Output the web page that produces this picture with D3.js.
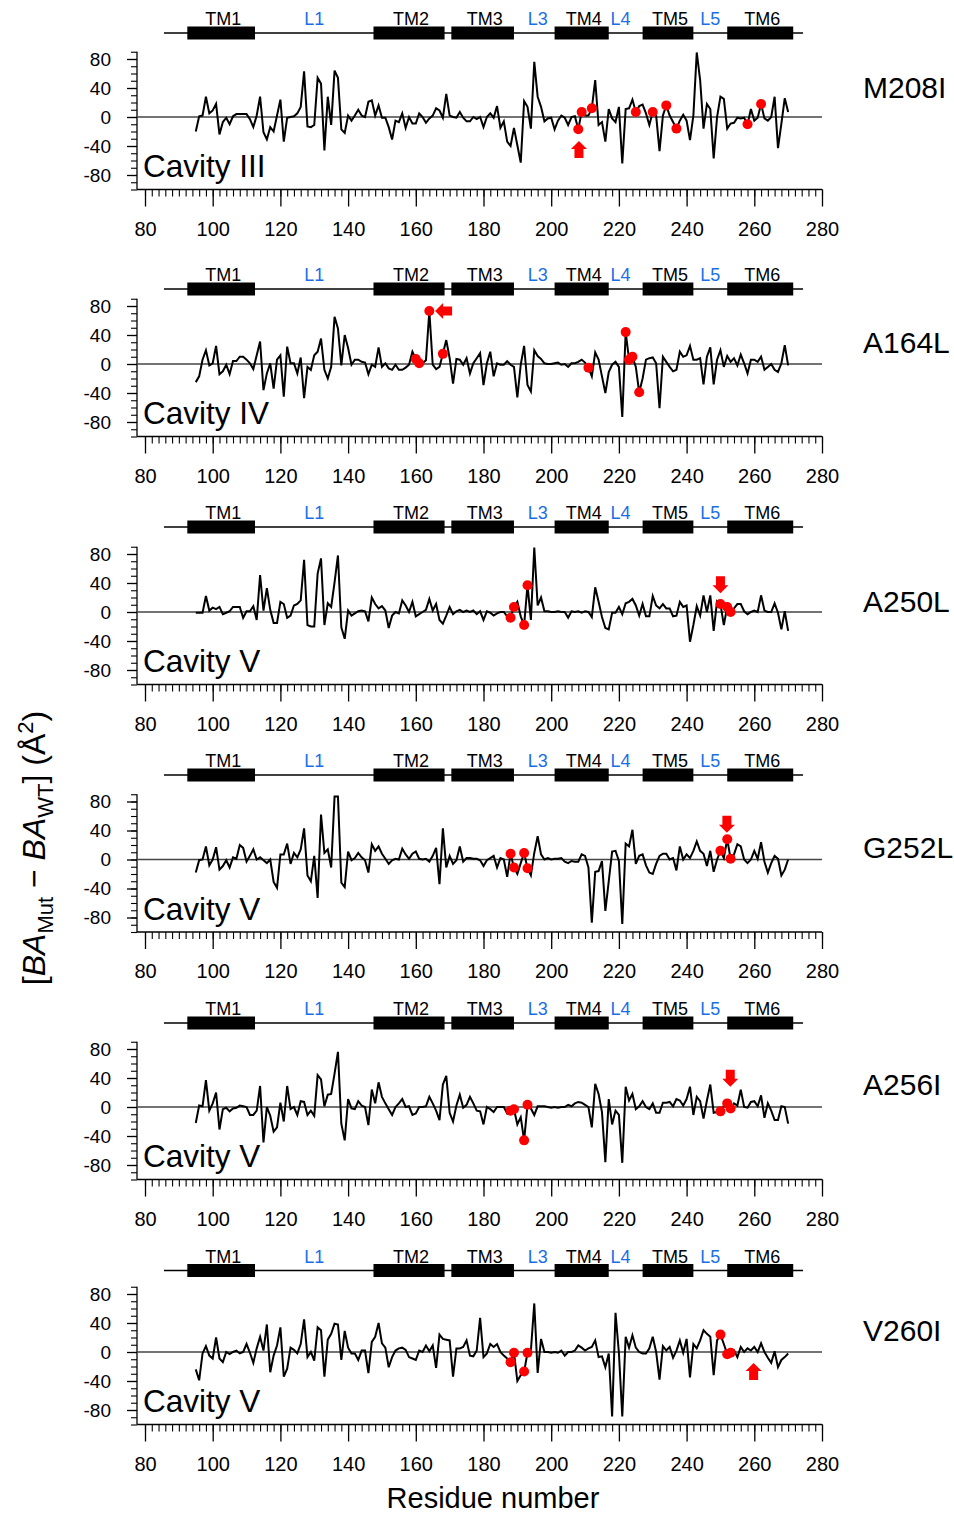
<!DOCTYPE html>
<html>
<head>
<meta charset="utf-8">
<script src="https://cdn.jsdelivr.net/npm/d3@7"></script>
<style>
  body { margin: 0; background: #fff; }
  svg { display: block; }
  text { font-family: "Liberation Sans", Arial, Helvetica, sans-serif; }
</style>
</head>
<body>
<svg id="chart" width="954" height="1515"></svg>
<script>
// ---- data: buried-area difference (mutant - wild type), residues 95..270 ----
const firstResidue = 95;

const mutants  = ["M208I", "A164L", "A250L", "G252L", "A256I", "V260I"];
const cavities = ["Cavity III", "Cavity IV", "Cavity V", "Cavity V", "Cavity V", "Cavity V"];

const baM208I = [
  -20, 1, 2, 28, 5, 9, 18, -24, -7, -1,
  -10, 1, 4, 4, 4, 4, -3, -14, 2, 28,
  -21, -31, -14, -20, 2, 24, -34, -1, 0, 1,
  5, 14, 63, -13, -14, -11, 54, 46, -46, 28,
  -11, 64, 54, -17, -22, 2, -5, 2, 10, 2,
  0, 21, 23, 2, 16, -1, -1, -14, -31, -5,
  -7, 5, -15, 0, -9, -9, 5, 0, -8, -2,
  2, 12, 9, -1, 32, 2, 0, -1, 7, -1,
  -6, -6, 0, -3, 0, -14, 0, 5, -1, 15,
  -15, -6, -34, -40, -15, -39, -63, 22, 14, -16,
  76, 28, 14, -6, -2, -1, -17, -5, 2, -1,
  -11, 0, 1, -17, 7, 2, 2, 12, 51, -11,
  -7, -34, 11, -2, -7, 14, -64, 11, 12, 24,
  7, 15, 17, 5, -11, 7, 2, -47, 2, 16,
  2, -7, -16, -5, 3, -5, -32, 2, 89, 51,
  -16, 18, 11, -57, 0, 28, 25, -16, -9, -8,
  -1, -2, -1, -10, 11, -5, -1, 18, -2, -5,
  0, 28, -43, -9, 26, 7
];

const baA164L = [
  -25, -17, 6, 19, -2, 1, 25, -14, -10, -1,
  -14, 4, 4, 10, 10, 6, 1, -7, 12, 31,
  -36, -13, 1, -34, 6, 12, -45, 24, 1, 1,
  -13, 9, -47, -4, -8, 12, 17, 35, -8, -20,
  -4, 65, 49, -2, 40, 22, -1, 6, 6, 3,
  2, -14, -1, -4, 23, -4, 1, -6, -8, -1,
  -8, -8, -5, -1, 17, 7, 1, 1, 5, 73,
  -1, -7, -4, 14, 33, 8, -27, 7, 6, -1,
  8, -13, 1, 8, 15, -29, 1, 17, -17, 1,
  -1, -1, 4, -1, -4, -46, -1, 25, -29, -38,
  19, 11, 7, 1, 0, 0, 1, 2, -1, 0,
  -4, 1, 1, 3, 6, 2, -5, -17, 16, 6,
  -17, -40, -11, -1, 3, -4, -73, 44, 6, 10,
  -4, -39, -20, 6, 8, 9, 1, -61, 10, 3,
  -4, -10, -8, 17, 10, 12, 25, 6, 6, 8,
  -28, 10, 23, -28, 6, 19, -4, 11, 3, 8,
  -2, 13, 1, -13, 6, 6, 3, 10, -8, -4,
  0, -8, -11, 1, 26, -2
];

const baA250L = [
  -1, -1, -1, 22, 2, 6, 4, 7, -3, -1,
  1, 7, 7, 7, -8, 1, 1, 8, -11, 51,
  2, 33, 3, -15, -15, 14, 11, -8, -5, 9,
  11, 16, 72, -18, -20, -20, 53, 74, -18, 12,
  7, 41, 78, -21, -37, 2, -5, -2, 1, 2,
  1, -13, 20, 11, 5, 8, 2, -22, -5, 0,
  -2, 16, 9, 0, 14, -6, -3, 0, 3, 18,
  2, 11, -11, -16, -5, 7, -3, 1, 3, 0,
  2, 0, 2, -3, 1, -11, 1, -1, -5, -2,
  0, 0, -6, -8, 7, 14, -6, -18, 37, -11,
  89, 9, 20, 1, 1, 0, 0, 1, 0, 0,
  -8, 1, 0, 1, -1, 1, 0, -7, 34, 14,
  -7, -22, -24, -1, -1, 7, -3, 12, 14, 18,
  9, -5, 11, -6, -6, 22, 9, 5, 11, 5,
  5, -6, -5, 14, 7, 9, -41, -18, 8, -5,
  23, 0, 23, -26, 15, 11, -18, 7, 0, 5,
  11, 11, 1, -3, 0, 2, 0, 23, 2, 0,
  0, 12, -1, -24, 1, -26
];

const baG252L = [
  -18, -1, 0, 18, -8, 0, 17, -14, -9, -1,
  -11, 3, 1, 20, 16, -3, 5, 14, 0, 3,
  -1, -5, 0, -31, -39, 7, 7, 22, -6, 9,
  3, 14, 43, -22, -30, 5, -53, 62, 9, 14,
  -11, 87, 87, -32, -38, 11, -1, 2, 9, 3,
  -1, -18, 21, 12, 18, 8, 1, -6, -1, 1,
  0, 15, 7, 1, 8, 11, 1, 0, 1, -3,
  5, 16, -34, 43, -11, 5, -6, -1, 18, -3,
  2, 2, 1, 1, -1, -9, -1, 2, 5, -11,
  2, 0, -24, 8, -11, -20, -5, 9, -12, -22,
  9, 32, 7, 0, 2, 0, 1, 1, 2, -3,
  -5, -2, -3, -3, 7, 5, -11, -87, -17, -16,
  -2, -71, -30, 11, 12, -2, -89, 22, 18, 41,
  -6, 5, 7, -8, -18, -20, -6, 5, 8, 8,
  0, 2, -15, 18, 0, 7, 2, 12, 25, 12,
  8, -9, 12, -17, 0, 12, 2, 28, 1, 7,
  21, 18, 0, -5, 0, 12, 1, 24, -3, -18,
  -5, 5, 1, -22, -14, 0
];

const baA256I = [
  -22, 2, 1, 37, -5, 5, 20, -31, -3, -1,
  -6, -2, -1, 2, 1, 0, -11, -11, -5, 29,
  -49, 0, -12, -34, -28, 6, -20, 29, -3, 0,
  -11, 8, 7, -11, -5, -12, 44, 38, 1, 17,
  18, 46, 76, -23, -46, 11, -2, -3, 8, 2,
  0, -25, 24, 5, 34, 14, 5, -3, -11, 0,
  5, 11, 0, 1, -11, -9, 0, 0, 1, 14,
  5, -5, -18, 31, 43, -8, -20, 2, 17, -1,
  3, 14, 5, -5, -6, -24, 0, -3, -7, 0,
  0, 0, -9, -5, -3, -24, -14, -46, 3, -2,
  -11, 1, 1, 1, 0, -1, 0, -1, 0, 0,
  3, 1, 5, 7, 6, 3, 0, -28, 32, 18,
  -7, -76, 11, -24, -5, -11, -77, 28, 9, 18,
  -3, 1, 8, 0, -3, 5, -8, -8, 6, 6,
  7, 1, 11, 9, 2, 11, 28, -11, 14, 8,
  -16, 9, 31, -8, -7, -6, 1, 5, -2, 5,
  2, 24, 0, -1, 7, 8, 1, 16, -15, 5,
  -5, -18, -18, 1, 0, -23
];

const baV260I = [
  -24, -39, -2, 8, -5, -9, 20, -9, -14, 0,
  -3, 0, 2, -2, 0, 11, -1, -15, 5, 21,
  2, 38, -28, -5, 9, 34, -34, -23, 6, 3,
  -2, 11, 45, -7, 0, -12, 34, 30, -34, 17,
  25, 39, 38, -11, 29, 6, -2, -2, -11, 2,
  2, -29, 14, 21, 40, 12, 6, -21, -7, 2,
  5, 6, 3, -7, -9, -11, 2, 0, 9, 1,
  9, -22, 24, 18, 17, 16, -34, 5, 5, 7,
  16, -5, -6, 2, 47, -7, -2, 11, 7, 11,
  0, -5, -9, -14, -1, -40, -32, -27, -1, 2,
  67, -29, 18, 0, 0, -1, 0, -1, 2, -5,
  0, 0, 2, 9, 6, 2, 5, 7, 16, -7,
  -6, -21, -2, -89, 54, -1, -89, 21, 6, 23,
  6, 0, -2, -2, 5, 21, 0, -38, 8, 2,
  7, -8, 2, 16, -1, 18, -35, 11, 5, 16,
  30, 25, 21, -32, 16, 24, 11, -3, -1, 2,
  -7, 7, 0, 5, 2, 7, 0, 12, 0, -8,
  -15, 1, -21, -11, -7, -2
];

const series = [baM208I, baA164L, baA250L, baG252L, baA256I, baV260I];

// cavity-lining residues highlighted with red dots
const markedResidues = [
  [208, 209, 212, 225, 230, 234, 237, 258, 262],
  [160, 161, 164, 168, 211, 222, 223, 224, 226],
  [188, 189, 192, 193, 250, 252, 253],
  [188, 189, 192, 193, 250, 252, 253],
  [188, 189, 192, 193, 250, 252, 253],
  [188, 189, 192, 193, 250, 252, 253]
];

// arrows pointing at the mutated residue: residue, value at the tip, direction
const arrowResidues = [208.2, 165.7, 250, 251.9, 252.9, 259.8];
const arrowTips     = [-33, 73, 26, 37, 28, -15];
const arrowDirs     = ["up", "left", "down", "down", "down", "up"];

// membrane topology
const segmentNames  = ["TM1", "TM2", "TM3", "TM4", "TM5", "TM6"];
const segmentStarts = [92.5, 147.5, 170.5, 201, 227, 252];
const segmentEnds   = [112.5, 168.5, 189, 217, 242, 271.5];
const loopNames     = ["L1", "L3", "L4", "L5"];
const loopCentres   = [130, 196, 220.5, 247];
const topologySpan  = [85.6, 274.4];

// axes
const xDomain = [80, 280];
const yDomain = [-100, 90];
const xTickLabels = d3.range(80, 281, 20);
const xMinorTicks = d3.range(80, 281, 2);
const yTickLabels = [80, 40, 0, -40, -80];
const yMinorTicks = d3.range(-100, 91, 10);

// ---- layout ----
const zeroY   = [117, 364, 612, 859.5, 1107, 1352];
const topoY   = [33, 289, 527, 775, 1023, 1270.5];
const mutantY = [98, 353, 612, 858, 1095, 1341];
const axisX = 137;
const plotRight = 822;
const loopBlue = "#1b6fe6";
const markRed = "#ff0000";

const svg = d3.select("#chart");
const x = d3.scaleLinear().domain(xDomain).range([145, plotRight]);

function arrowPath(dir) {
  // block arrow with its tip at (0,0), pointing down
  const pts = [[0, 0], [-8, -8], [-4.5, -8], [-4.5, -17], [4.5, -17], [4.5, -8], [8, -8]];
  const rot = { down: 0, up: 180, left: 90, right: -90 }[dir] * Math.PI / 180;
  return "M" + pts.map(([px, py]) => {
    const rx = px * Math.cos(rot) - py * Math.sin(rot);
    const ry = px * Math.sin(rot) + py * Math.cos(rot);
    return rx.toFixed(2) + "," + ry.toFixed(2);
  }).join("L") + "Z";
}

series.forEach((values, i) => {
  const y0 = zeroY[i];
  const y = d3.scaleLinear().domain(yDomain).range([y0 + 72.5, y0 - 65.25]);
  const g = svg.append("g");
  const pts = values.map((v, k) => ({ r: firstResidue + k, v }));

  // topology bar
  const ty = topoY[i];
  g.append("line")
    .attr("x1", x(topologySpan[0])).attr("x2", x(topologySpan[1]))
    .attr("y1", ty).attr("y2", ty)
    .attr("stroke", "#000").attr("stroke-width", 1.6);
  segmentNames.forEach((name, s) => {
    g.append("rect")
      .attr("x", x(segmentStarts[s])).attr("width", x(segmentEnds[s]) - x(segmentStarts[s]))
      .attr("y", ty - 6.5).attr("height", 13)
      .attr("fill", "#000");
    g.append("text")
      .attr("x", (x(segmentStarts[s]) + x(segmentEnds[s])) / 2 + 2)
      .attr("y", ty - 8)
      .attr("text-anchor", "middle")
      .style("font-size", "18px")
      .text(name);
  });
  loopNames.forEach((name, s) => {
    g.append("text")
      .attr("x", x(loopCentres[s])).attr("y", ty - 8)
      .attr("text-anchor", "middle")
      .attr("fill", loopBlue)
      .style("font-size", "18px")
      .text(name);
  });

  // x axis: minor and major ticks
  const xAxisY = y(yDomain[0]);
  g.append("g").attr("transform", `translate(0,${xAxisY})`)
    .call(d3.axisBottom(x).tickValues(xMinorTicks).tickSize(7).tickFormat(""))
    .call(a => a.select(".domain").remove())
    .call(a => a.selectAll("line").attr("stroke-width", 1.1));
  g.append("g").attr("transform", `translate(0,${xAxisY})`)
    .call(d3.axisBottom(x).tickValues(xTickLabels).tickSize(17).tickPadding(15))
    .call(a => a.select(".domain").remove())
    .call(a => a.selectAll("line").attr("stroke-width", 1.3))
    .call(a => a.selectAll("text")
      .style("font-size", "20px")
      .style("font-family", "'Liberation Sans', Arial, sans-serif")
      .attr("fill", "#000"));
  g.append("line")
    .attr("x1", axisX).attr("x2", plotRight)
    .attr("y1", xAxisY).attr("y2", xAxisY)
    .attr("stroke", "#000").attr("stroke-width", 1.3);

  // y axis
  g.append("g").attr("transform", `translate(${axisX},0)`)
    .call(d3.axisLeft(y).tickValues(yMinorTicks).tickSize(6).tickFormat(""))
    .call(a => a.select(".domain").remove())
    .call(a => a.selectAll("line").attr("stroke-width", 1.1));
  g.append("g").attr("transform", `translate(${axisX},0)`)
    .call(d3.axisLeft(y).tickValues(yTickLabels).tickSize(10).tickPadding(16).tickFormat(d => String(d)))
    .call(a => a.select(".domain").remove())
    .call(a => a.selectAll("line").attr("stroke-width", 1.3))
    .call(a => a.selectAll("text")
      .style("font-size", "19px")
      .style("font-family", "'Liberation Sans', Arial, sans-serif")
      .attr("fill", "#000"));
  g.append("line")
    .attr("x1", axisX).attr("x2", axisX)
    .attr("y1", y(yDomain[1])).attr("y2", xAxisY)
    .attr("stroke", "#000").attr("stroke-width", 1.3);

  // zero reference
  g.append("line")
    .attr("x1", axisX).attr("x2", plotRight)
    .attr("y1", y(0)).attr("y2", y(0))
    .attr("stroke", "#444").attr("stroke-width", 1.6);

  // difference trace
  g.append("path")
    .datum(pts)
    .attr("fill", "none")
    .attr("stroke", "#000")
    .attr("stroke-width", 2)
    .attr("stroke-linejoin", "miter")
    .attr("d", d3.line().x(d => x(d.r)).y(d => y(d.v)));

  // highlighted residues
  const marked = pts.filter(d => markedResidues[i].includes(d.r));
  g.selectAll("circle.mark").data(marked).join("circle")
    .attr("class", "mark")
    .attr("cx", d => x(d.r)).attr("cy", d => y(d.v))
    .attr("r", 5).attr("fill", markRed);

  // mutation arrow
  g.append("path")
    .attr("transform", `translate(${x(arrowResidues[i])},${y(arrowTips[i])})`)
    .attr("d", arrowPath(arrowDirs[i]))
    .attr("fill", markRed);

  // labels
  g.append("text")
    .attr("x", 143).attr("y", y0 + 60)
    .style("font-size", "31.5px")
    .text(cavities[i]);
  g.append("text")
    .attr("x", 863).attr("y", mutantY[i])
    .style("font-size", "30px")
    .text(mutants[i]);
});

// x title
svg.append("text")
  .attr("x", 493).attr("y", 1508)
  .attr("text-anchor", "middle")
  .style("font-size", "29px")
  .text("Residue number");

// y title
const yTitle = svg.append("text")
  .attr("transform", "translate(45,848) rotate(-90)")
  .attr("text-anchor", "middle")
  .style("font-size", "32px");
yTitle.append("tspan").text("[");
yTitle.append("tspan").style("font-style", "italic").text("BA");
yTitle.append("tspan").attr("dy", 8).style("font-size", "22px").text("Mut");
yTitle.append("tspan").attr("dy", -8).text(" \u2212 ");
yTitle.append("tspan").style("font-style", "italic").text("BA");
yTitle.append("tspan").attr("dy", 8).style("font-size", "22px").text("WT");
yTitle.append("tspan").attr("dy", -8).text("] (\u00C5");
yTitle.append("tspan").attr("dy", -12).style("font-size", "22px").text("2");
yTitle.append("tspan").attr("dy", 12).text(")");
</script>
</body>
</html>
